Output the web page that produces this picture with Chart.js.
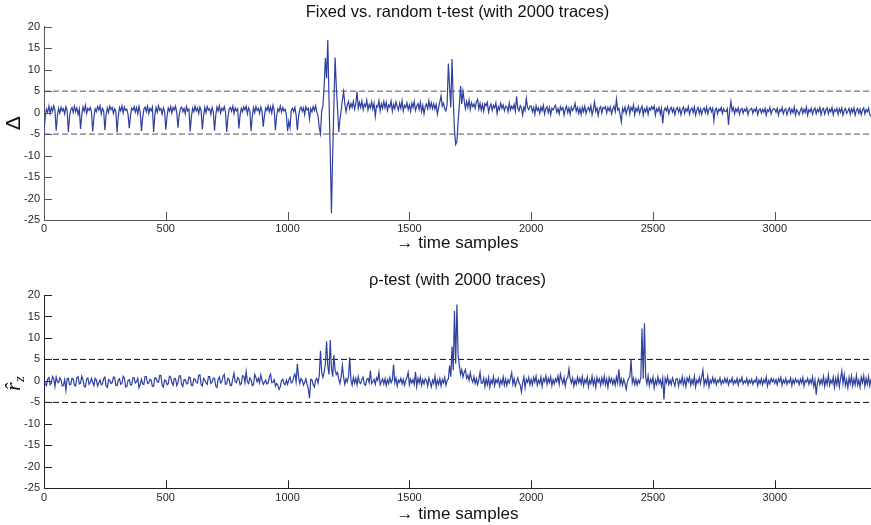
<!DOCTYPE html>
<html>
<head>
<meta charset="utf-8">
<script src="https://cdn.jsdelivr.net/npm/chart.js@4.4.0/dist/chart.umd.min.js"></script>
<style>
  html, body { margin: 0; padding: 0; background: #fff; }
  #wrap { position: relative; width: 871px; height: 525px; }
  canvas { position: absolute; left: 0; }
</style>
</head>
<body>
<div id="wrap">
  <canvas id="tTest" width="871" height="262" style="top:0"></canvas>
  <canvas id="rhoTest" width="871" height="263" style="top:262px"></canvas>
</div>
<script>
// one value every STEP time samples
const STEP = 5;

const deltaValues = [
  -4.6, -1.0, 0.8, 0.1, 1.5, -0.2, 1.2, 0.3, 1.6, 0.5, -4.2, -0.7, 1.0, -0.1, 1.3, 0.4, 0.9, -0.3, 1.4, 0.6,
  -4.5, -0.9, 0.7, 1.2, 0.0, 1.5, 0.2, 1.1, -0.4, 0.8, -3.8, -0.6, 1.3, 0.3, 1.7, -0.2, 1.0, 0.5, 1.2, 0.1,
  -4.4, -1.1, 0.9, 0.2, 1.4, 0.6, 1.6, -0.3, 1.0, 0.4, -4.1, -0.5, 1.1, 0.0, 1.5, 0.7, 1.2, -0.2, 0.9, 0.3,
  -4.6, -0.8, 1.2, 0.4, 1.6, -0.1, 1.3, 0.5, 0.8, -0.4, -3.6, -0.7, 1.0, 0.6, 1.4, 0.1, 1.2, -0.3, 1.5, 0.2,
  -4.3, -1.2, 0.8, 1.3, 0.2, 1.5, -0.2, 1.0, 0.4, 1.3, -4.5, -0.6, 1.2, 0.1, 1.6, 0.5, 0.9, -0.4, 1.1, 0.3,
  -4.0, -0.9, 1.1, 0.3, 1.4, -0.1, 1.2, 0.6, 1.5, 0.0, -3.5, -0.5, 0.9, 1.3, 0.2, 1.0, -0.3, 1.4, 0.4, 0.8,
  -4.4, -1.0, 1.0, 0.2, 1.5, 0.4, 1.1, -0.2, 1.3, 0.5, -3.9, -0.8, 1.2, 0.0, 1.4, 0.6, 0.9, -0.4, 1.2, 0.2,
  -4.2, -0.7, 1.3, 0.4, 1.6, -0.1, 1.0, 0.5, 1.4, 0.1, -4.5, -1.1, 0.8, 1.2, 0.3, 1.5, -0.2, 1.1, 0.4, 0.9,
  -3.7, -0.6, 1.0, 0.2, 1.3, 0.6, 1.5, -0.3, 1.1, 0.4, -4.3, -0.9, 1.2, 0.0, 1.4, 0.5, 1.0, -0.2, 1.3, 0.3,
  -3.3, -0.7, 1.1, 0.5, 1.6, 0.2, 1.3, -0.1, 1.7, 0.6, -4.1, -0.8, 0.9, 0.3, 1.5, 0.1, 1.2, 0.4, 0.8, -0.5,
  -4.3, -2.0, -3.5, 0.4, 1.0, 0.2, 1.2, -0.6, -4.1, -1.0, 0.8, 1.3, 0.3, 1.1, -0.5, 1.4, 0.6, 1.0, -1.5, 0.9,
  0.2, 1.4, 0.5, 1.6, 0.1, -0.8, -3.5, -4.9, 0.5, 1.5, 6.0, 12.7, 8.0, 16.9, 3.0, -9.0, -23.4, -10.0, 1.5, 12.8,
  6.0, 1.0, -4.5, -1.5, 0.5, 3.0, 4.9, 2.0, 0.2, 1.8, 2.6, 0.9, 2.1, 1.2, 2.6, 0.8, 2.0, 4.9, 1.0, 2.4,
  1.2, 2.7, 0.7, 2.0, 1.4, 2.9, 0.6, 1.9, 1.1, 2.5, 0.8, 2.2, -0.9, 1.6, 1.3, 2.8, 0.4, 2.1, 1.0, 2.6,
  1.1, 2.4, 0.5, 1.8, 1.3, 2.7, 0.3, 1.9, 0.9, 2.5, 1.4, 0.6, 2.2, 1.0, 2.8, 0.4, 1.7, 1.2, 2.3, 0.7,
  1.8, 0.3, 2.2, 1.2, 2.6, 0.5, 1.5, 2.1, 0.8, 2.4, 0.2, 1.7, -0.3, 1.4, 2.0, 0.9, 2.8, 1.1, 2.3, 0.9,
  2.1, 0.8, 1.9, -0.4, 1.2, 2.5, 3.9, 1.5, 2.2, 0.9, 0.4, 2.0, 11.4, 6.0, 1.2, 12.5, 3.0, -4.0, -7.4, -6.8,
  -2.0, 1.5, 6.2, 2.0, 5.0, 2.8, 0.9, 2.6, 1.2, 2.9, 0.7, 2.3, 1.4, 2.0, 1.0, 2.5, 3.1, 0.8, 2.2, 0.6,
  1.9, 0.3, 2.1, 1.6, 2.4, 0.1, 1.3, 2.0, 0.5, 1.7, 1.1, 2.3, -0.2, 1.4, 0.7, 2.2, 1.0, 1.8, 0.4, 1.5,
  1.4, 0.2, 2.2, 0.6, 1.5, 0.9, 1.9, 0.3, 3.8, 1.0, 0.4, 1.6, 1.1, -0.6, 1.3, 0.5, 3.3, 1.2, 0.7, 1.5,
  1.5, 0.2, 1.2, -0.4, 1.6, 0.5, 1.1, -0.2, 1.3, 0.4, 1.7, -0.3, 0.9, 1.4, 0.0, 1.2, -0.5, 1.0, 0.6, 1.3,
  1.7, 0.1, 0.9, -0.3, 1.4, 0.6, 1.2, -0.6, 0.8, 1.5, 0.0, 1.1, -0.4, 1.3, 0.5, 1.0, 2.2, 0.3, 1.2, -0.2,
  1.0, -0.4, 1.3, 0.2, 1.5, -0.2, 0.8, 1.2, 0.3, 1.6, -0.5, 0.7, 2.5, 0.3, 1.1, -0.7, 0.9, 1.4, -0.1, 1.2,
  0.9, 1.4, -0.1, 1.2, 0.4, 1.3, -0.3, 0.8, 1.5, 0.2, 3.1, 0.6, 1.0, -0.5, -2.2, 1.0, 0.2, 1.3, -0.3, 0.9,
  1.6, -0.3, 1.2, 0.5, 1.8, -0.5, 1.0, 0.3, 1.4, -0.2, 0.8, 1.5, -0.6, 0.9, 0.2, 1.3, -0.4, 1.1, 0.6, 1.4,
  0.8, 1.5, -0.6, 0.9, 0.3, 1.2, -0.4, 1.0, -2.5, 0.4, 1.1, 0.4, 1.3, -0.3, 0.7, 1.2, 0.1, 1.0, -0.5, 0.8,
  1.2, 0.1, 1.0, -0.5, 0.8, 1.3, -0.2, 0.9, 0.3, 1.4, -0.4, 0.7, 1.1, 0.0, 1.3, -0.6, 0.6, 1.2, -0.2, 0.9,
  -0.4, 0.7, 1.1, 0.0, 1.3, -0.3, 0.8, 1.2, 0.2, 1.0, -1.9, 0.6, 1.0, -0.3, 0.8, 0.4, 1.2, -0.2, 0.9, 0.3,
  0.2, 0.9, -2.9, 0.6, 2.6, 0.4, 1.2, -0.3, 0.9, 0.2, 1.1, -0.4, 0.7, 1.0, -0.2, 0.8, 0.3, 1.1, -0.5, 0.6,
  0.7, 1.0, -0.2, 0.8, 0.3, 1.1, -0.5, 0.6, 0.9, -0.1, 0.8, 0.1, 1.0, -0.6, 0.7, 0.3, 1.2, -0.3, 0.6, 0.9,
  0.8, 0.1, 1.0, -0.6, 0.7, 0.3, 1.2, -0.3, 0.6, 0.9, -0.5, 0.5, 1.1, -0.2, 0.8, 0.0, 1.3, -0.6, 0.7, 0.2,
  -0.5, 0.5, 1.1, -0.2, 0.8, 0.0, 1.3, -0.6, 0.7, 0.2, 1.0, -0.4, 0.6, 1.1, -0.3, 0.8, 0.2, 1.2, -0.5, 0.7,
  1.0, -0.4, 0.6, 1.1, -0.3, 0.8, 0.2, 1.2, -0.5, 0.7, 0.3, 1.0, -0.4, 0.9, 0.1, 1.1, -0.6, 0.5, 1.0, -0.2,
  0.3, 1.0, -0.4, 0.9, 0.1, 1.1, -0.6, 0.5, 1.0, -0.2, 0.8, -0.5, 0.6, 1.1, -0.3, 0.7, 0.2, 1.0, -0.4, -0.9
];

const rhoValues = [
  0.3, -0.6, -1.1, 0.4, 0.8, -0.9, -0.6, 1.0, 0.5, -1.3, 0.9, -0.2, -0.4, 0.7, 0.2, -1.2, -1.0, 0.3, -2.2, 0.5,
  0.6, -0.9, -0.8, 0.6, 0.4, -1.0, -1.2, 0.8, 1.0, -0.7, -0.5, 1.1, 0.3, -1.3, -1.4, 0.4, 0.7, -0.8, -0.3, 0.6,
  -0.3, -1.1, 0.6, 0.2, -1.2, -0.4, 0.2, -0.9, -0.7, 0.5, 0.9, -1.2, -1.5, 0.3, 0.1, -0.6, -0.4, 0.9, 0.8, -1.0,
  -1.1, 0.2, 0.5, -0.8, -0.6, 1.1, 0.7, -1.4, -1.3, 0.1, 0.3, -0.9, -0.9, 0.8, 0.7, -0.5, -0.2, 0.6, -1.6, -0.8,
  0.4, -0.7, -0.8, 1.0, 1.0, -0.6, -0.5, 0.4, 0.2, -1.3, -1.2, 0.7, 0.6, -0.2, -0.3, 1.3, 1.3, -1.0, -1.4, 0.2,
  0.1, -0.9, -0.7, 1.1, 0.9, -0.4, -1.0, 0.6, 0.5, -1.1, -0.4, 1.2, 1.2, -0.8, -1.3, 0.3, 0.3, -0.7, -0.6, 0.9,
  0.8, -1.0, -1.1, 0.5, 0.4, -0.3, -0.5, 1.3, 1.4, -0.9, -1.2, 0.6, 0.2, -0.4, -0.8, 1.0, 1.0, -0.6, -0.3, 0.7,
  0.6, -1.2, -1.5, 0.4, 0.9, -0.5, -0.2, 1.1, 1.5, -0.8, -0.7, 0.6, 0.3, -1.1, -1.0, 0.5, 1.8, -0.2, -0.4, 0.8,
  0.5, -0.9, -0.6, 1.2, 1.1, -0.4, 2.2, -0.2, -0.6, 0.7, 0.3, -1.1, -0.9, 1.5, 0.8, -0.2, 0.6, -0.5, 1.4, 0.2,
  -0.8, -0.3, 0.2, -0.7, -0.5, 0.9, 1.6, -0.4, -0.3, 0.3, -1.2, -0.6, -1.0, -2.0, -1.4, 0.1, 0.4, -0.6, -0.9, 0.2,
  -0.8, 0.3, 0.9, -0.5, -0.3, 1.0, 1.6, -0.2, 4.0, 1.0, -0.6, 0.5, 0.2, -1.0, -0.4, 0.5, -0.8, -1.8, -4.0, 0.4,
  0.3, -0.9, -1.4, 0.2, 0.6, -0.5, 1.2, 7.0, 2.0, 0.8, 2.0, 4.0, 9.2, 3.5, 1.5, 9.5, 3.0, 1.0, 6.0, 2.5,
  1.5, 2.0, 0.4, -0.6, 1.0, 3.6, 0.8, -0.8, 0.5, -0.2, 1.0, 5.5, 0.2, -1.0, 0.8, -0.5, 0.6, -0.9, 1.0, -0.3,
  -0.6, 0.4, 0.9, -0.8, -1.0, 0.3, 0.6, -0.4, 2.4, -0.6, -0.2, 0.4, -0.8, 0.7, 0.1, 2.0, -0.9, -0.2, 0.5, -0.7,
  0.5, -1.1, 0.3, -0.6, 0.8, -0.4, 0.2, 3.8, -0.4, 0.7, -1.2, 0.2, -0.3, 0.6, -0.7, 0.4, -1.0, 0.1, 0.8, 2.0,
  -0.9, 0.4, -0.5, 0.3, -0.8, 2.1, -1.3, 0.6, -0.5, 0.9, -1.0, 0.3, -0.7, 0.5, 0.1, -1.2, 0.7, -0.3, -1.4, 0.2,
  -0.6, 1.1, -1.4, 0.2, -0.8, 0.6, -1.2, 0.3, -0.5, 0.8, -1.0, 0.1, 0.5, 3.6, 1.0, 8.0, 2.5, 16.3, 4.0, 17.8,
  6.0, 3.7, 1.5, 2.6, 0.9, 2.0, 2.6, 0.6, 1.3, 0.1, 1.9, 0.4, -0.3, 1.0, -0.6, 0.5, -0.9, 0.3, 2.0, -0.5,
  -0.5, 0.7, -1.3, 0.4, -0.9, 0.8, -1.5, 0.2, -0.6, 1.0, -1.1, 0.3, -0.4, 0.6, -1.2, 0.2, -0.7, 0.9, -1.0, 0.4,
  -1.1, 0.3, -0.5, 0.6, 1.9, -0.8, 0.5, -1.2, -0.3, 0.7, -0.4, -1.0, -2.6, -0.4, 0.9, -1.6, 0.4, -0.3, 0.8, -0.9,
  0.4, -0.9, 0.8, -0.3, 1.1, -1.0, 0.2, -0.6, 0.9, -1.3, 0.5, -0.2, 1.2, -0.8, 0.6, -0.4, 1.0, -1.1, 0.3, -0.7,
  0.5, -0.2, 1.2, -0.8, 1.6, 0.3, -0.6, 0.8, -1.2, 0.4, 0.7, 2.8, 0.6, -0.5, 0.7, -1.2, 0.2, -0.8, 0.9, -0.4,
  0.6, -0.7, 1.0, -1.1, 0.3, -0.5, 0.9, -1.4, 0.2, -0.6, 1.1, -0.9, 0.4, -1.5, 0.8, -0.3, 0.5, -1.0, 0.7, -0.6,
  1.1, -0.9, 0.4, -1.5, 0.8, -0.3, 0.6, -0.8, 0.3, -1.0, 0.9, -0.5, 2.7, -0.8, 0.5, -1.0, 0.4, -0.6, -2.0, -0.2,
  0.6, 1.0, 5.0, -0.5, 0.6, -0.9, 0.4, -1.0, 0.2, -0.5, 0.8, 12.2, 0.5, 13.4, 0.8, -0.7, 1.2, -1.1, 0.4, -0.5,
  0.9, -1.6, 0.2, -0.8, 1.0, -0.6, 0.3, -1.2, 0.6, -4.3, 0.6, -0.4, 1.0, -0.8, 0.2, -0.9, 0.7, -0.3, -1.2, 0.5,
  0.5, -1.2, 0.3, -0.6, 1.0, -0.9, 0.4, -1.3, 0.7, -0.2, 0.9, -1.0, 0.3, -0.7, 1.1, -1.4, 0.2, -0.5, 0.8, -0.6,
  0.9, 2.5, -1.0, 0.3, -0.7, 1.1, -1.4, 0.2, -0.5, 0.8, -0.4, 0.5, -0.9, 0.2, -0.3, 0.7, -0.8, 0.1, -0.5, 0.6,
  -0.4, 0.5, -0.9, 0.2, -0.3, 0.7, -0.8, 0.1, -0.5, 0.6, -1.0, 0.3, -0.2, 0.8, -0.7, 0.0, -0.4, 0.6, -0.9, 0.2,
  -0.5, 0.4, -0.8, 0.1, -0.3, 0.7, -1.1, 0.2, -0.6, 0.5, -0.9, 0.3, -0.4, 0.9, -1.2, 0.1, -0.7, 0.6, -0.2, 0.4,
  -0.6, 0.3, -0.9, 0.5, -0.2, 0.8, -1.0, 0.2, -0.5, 0.6, -0.8, 0.1, -0.4, 0.7, -1.1, 0.3, -0.6, 0.5, -0.3, 0.2,
  -0.9, 0.4, -0.5, 0.8, -1.2, 0.1, -0.3, 0.6, -0.8, 0.3, -0.6, 0.9, -1.3, 0.2, -3.2, -0.4, 0.5, -0.9, 0.3, -0.7,
  1.0, -1.3, 0.4, -0.8, 1.4, -1.0, 0.2, -0.6, 0.9, -1.5, 0.6, -0.9, 1.2, -1.4, 0.5, 2.3, -0.6, 1.5, -1.1, 0.3,
  -1.6, 0.8, -0.7, 1.1, -1.2, 0.4, -0.9, 1.3, -1.0, 0.2, -1.5, 0.9, -0.4, 1.2, -1.3, 0.6, -0.8, 1.0, -1.1, 0.4
];

const thresholds = [5, -5];
const xTicks = [0, 500, 1000, 1500, 2000, 2500, 3000];
const yTicks = [-25, -20, -15, -10, -5, 0, 5, 10, 15, 20];
const timeSamples = deltaValues.map((v, i) => i * STEP);

const TICK_LEN = 8;

Chart.defaults.font.family = '"Liberation Sans", Arial, Helvetica, sans-serif';

// ticks pointing into the plot, drawn on the library's own scales
const inwardTicks = {
  id: "inwardTicks",
  afterDraw: (chart) => {
    const { ctx, chartArea, scales } = chart;
    ctx.save();
    ctx.strokeStyle = chart.options.scales.x.border.color;
    ctx.lineWidth = 1;
    ctx.beginPath();
    scales.x.ticks.forEach((t) => {
      const px = Math.round(scales.x.getPixelForValue(t.value)) + 0.5;
      ctx.moveTo(px, chartArea.bottom);
      ctx.lineTo(px, chartArea.bottom - TICK_LEN);
    });
    scales.y.ticks.forEach((t) => {
      const py = Math.round(scales.y.getPixelForValue(t.value)) + 0.5;
      ctx.moveTo(chartArea.left, py);
      ctx.lineTo(chartArea.left + TICK_LEN, py);
    });
    ctx.stroke();
    ctx.restore();
  },
};

// r-hat with subscript z, rotated like a y label
const rhoLabel = {
  id: "rhoLabel",
  afterDraw: (chart) => {
    const { ctx } = chart;
    ctx.save();
    ctx.translate(14, 121);
    ctx.rotate(-Math.PI / 2);
    ctx.fillStyle = "#111";
    ctx.font = 'italic 22px "Liberation Serif", serif';
    ctx.fillText("r\u0302", -8, 6);
    ctx.font = 'italic 15px "Liberation Serif", serif';
    ctx.fillText("z", 1, 10);
    ctx.restore();
  },
};

function drawTest(canvasId, values, cfg) {
  const ctx = document.getElementById(canvasId).getContext("2d");
  const xMax = timeSamples[timeSamples.length - 1];
  const axisColor = cfg.axisColor;

  new Chart(ctx, {
    type: "line",
    data: {
      datasets: [
        {
          data: values.map((v, i) => ({ x: timeSamples[i], y: v })),
          borderColor: "#2e3f9e",
          borderWidth: 1.2,
          pointRadius: 0,
        },
        ...thresholds.map((t) => ({
          data: [{ x: 0, y: t }, { x: xMax, y: t }],
          borderColor: cfg.dashColor,
          borderWidth: 1,
          borderDash: [6, 3],
          pointRadius: 0,
        })),
      ],
    },
    options: {
      responsive: false,
      animation: false,
      events: [],
      layout: { padding: 0 },
      plugins: {
        legend: { display: false },
        tooltip: { enabled: false },
        title: {
          display: true,
          fullSize: false,
          text: cfg.title,
          color: "#111",
          font: { size: 16.5, weight: "normal" },
          padding: { top: cfg.titleTop, bottom: cfg.titleBottom },
        },
      },
      scales: {
        x: {
          type: "linear",
          min: 0,
          max: xMax,
          afterBuildTicks: (s) => { s.ticks = xTicks.map((v) => ({ value: v })); },
          afterFit: (s) => { s.height = cfg.xHeight; },
          ticks: { color: "#262626", font: { size: 11 }, padding: 2.7, maxRotation: 0, callback: (v) => String(v) },
          grid: { display: false, drawTicks: false, tickLength: 0 },
          border: { color: axisColor, width: 1 },
          title: {
            display: true,
            text: "\u2192 time samples",
            color: "#111",
            font: { size: 17 },
            padding: { top: 0, bottom: cfg.xTitleBottom },
          },
        },
        y: {
          type: "linear",
          min: -25,
          max: 20,
          afterBuildTicks: (s) => { s.ticks = yTicks.map((v) => ({ value: v })); },
          afterFit: (s) => { s.width = 44; },
          ticks: { color: "#262626", font: { size: 11 }, padding: 4, callback: (v) => String(v) },
          grid: { display: false, drawTicks: false, tickLength: 0 },
          border: { color: axisColor, width: 1 },
          title: {
            display: cfg.yTitle !== "",
            text: cfg.yTitle,
            color: "#111",
            font: { size: 21 },
            padding: { top: 2, bottom: 0 },
          },
        },
      },
    },
    plugins: [inwardTicks, ...(cfg.plugins || [])],
  });
}

drawTest("tTest", deltaValues, {
  title: "Fixed vs. random t-test (with 2000 traces)",
  titleTop: 2.6,
  titleBottom: 4.3,
  xHeight: 42,
  xTitleBottom: 8.8,
  yTitle: "\u0394",
  axisColor: "#555",
  dashColor: "#555",
});

drawTest("rhoTest", rhoValues, {
  title: "\u03c1-test (with 2000 traces)",
  titleTop: 8.8,
  titleBottom: 4.4,
  xHeight: 36.7,
  xTitleBottom: 0,
  yTitle: "",
  axisColor: "#222",
  dashColor: "#111",
  plugins: [rhoLabel],
});
</script>
</body>
</html>
